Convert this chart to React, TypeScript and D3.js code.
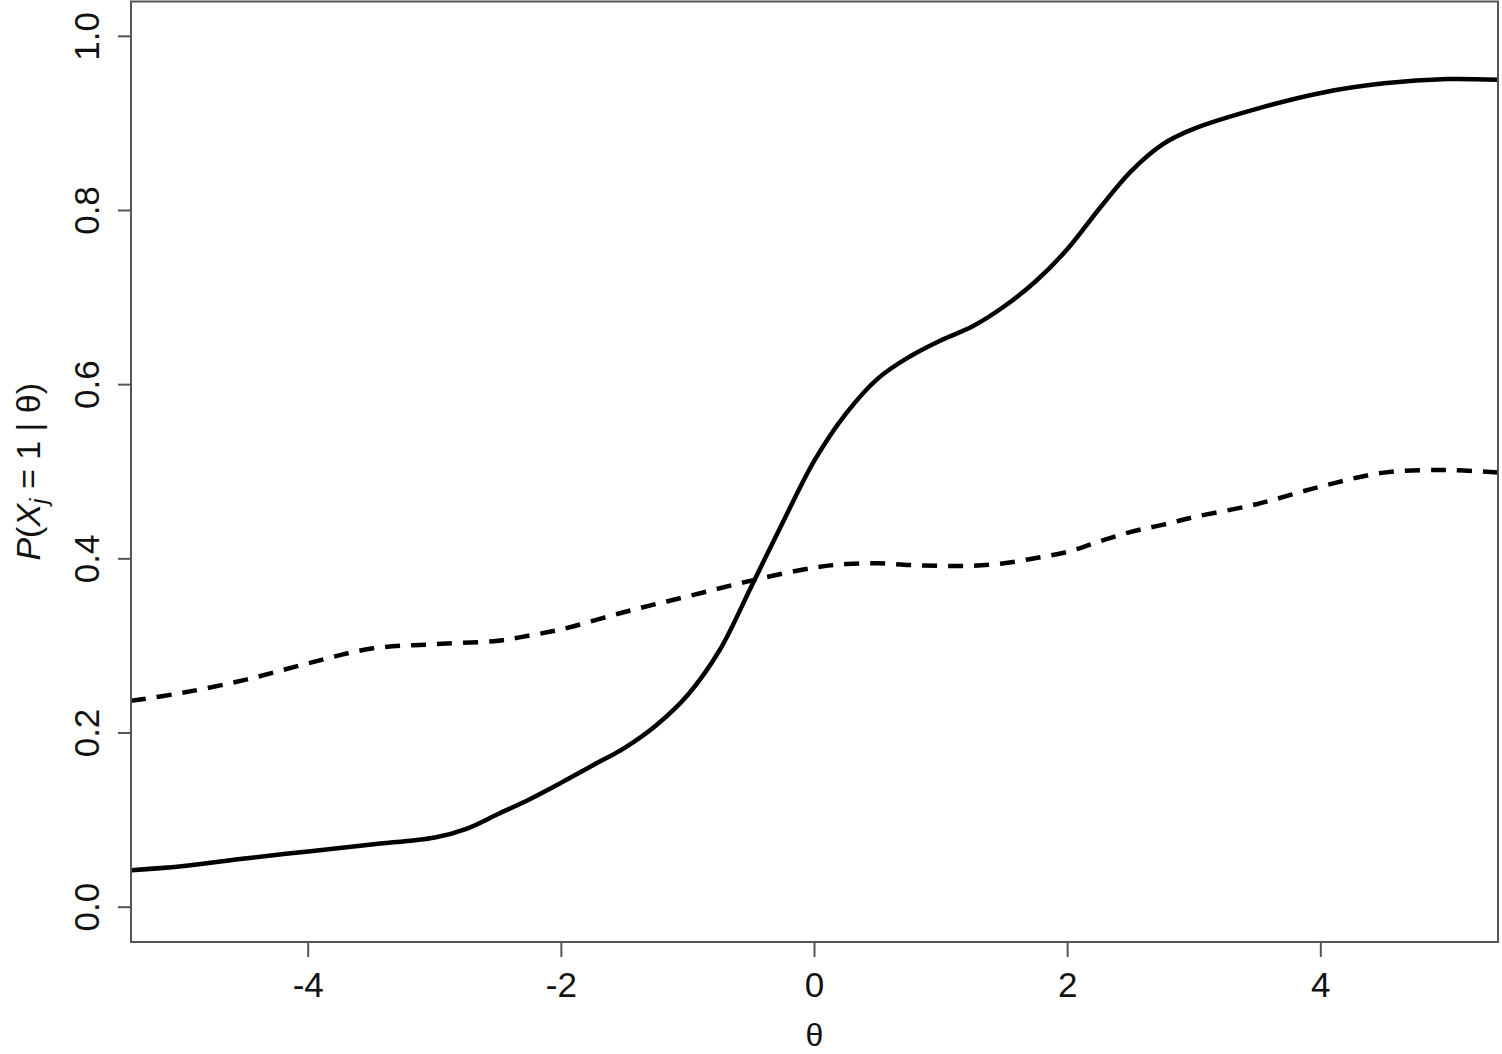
import React from "react";
import * as d3 from "d3";

const thetaSolid = [-5.4, -5.0, -4.5, -4.0, -3.5, -3.0, -2.75, -2.5, -2.25, -2.0, -1.75, -1.5, -1.25, -1.0, -0.75, -0.5, -0.25, 0.0, 0.25, 0.5, 0.75, 1.0, 1.25, 1.5, 1.75, 2.0, 2.25, 2.5, 2.75, 3.0, 3.5, 4.0, 4.5, 5.0, 5.4];
const probSolid = [0.0425, 0.047, 0.056, 0.064, 0.072, 0.080, 0.090, 0.107, 0.124, 0.143, 0.163, 0.183, 0.209, 0.244, 0.295, 0.368, 0.442, 0.513, 0.567, 0.607, 0.632, 0.651, 0.667, 0.690, 0.719, 0.756, 0.802, 0.845, 0.876, 0.894, 0.917, 0.935, 0.946, 0.951, 0.950];

const thetaDashed = [-5.4, -5.0, -4.5, -4.0, -3.5, -3.0, -2.5, -2.25, -2.0, -1.5, -1.0, -0.5, 0.0, 0.25, 0.5, 0.75, 1.0, 1.25, 1.5, 1.75, 2.0, 2.25, 2.5, 2.75, 3.0, 3.5, 4.0, 4.5, 5.0, 5.4];
const probDashed = [0.237, 0.246, 0.261, 0.280, 0.297, 0.302, 0.306, 0.312, 0.319, 0.339, 0.357, 0.375, 0.390, 0.394, 0.395, 0.393, 0.392, 0.392, 0.395, 0.401, 0.408, 0.420, 0.431, 0.439, 0.448, 0.463, 0.483, 0.499, 0.502, 0.499];

const xTicks = [-4, -2, 0, 2, 4];
const yTicks = [0, 0.2, 0.4, 0.6, 0.8, 1.0];

const W = 1502;
const H = 1054;
const L = 131, R = 1498, T = 1.5, B = 942;

export default function App() {
  const x = d3.scaleLinear().domain([-5.4, 5.4]).range([L, R]);
  const y = d3.scaleLinear().domain([-0.04, 1.04]).range([B, T]);
  const line = d3
    .line<[number, number]>()
    .x((d) => x(d[0]))
    .y((d) => y(d[1]))
    .curve(d3.curveCatmullRom.alpha(0.5));
  const solid = line(thetaSolid.map((t, i) => [t, probSolid[i]]) as [number, number][]) || "";
  const dashed = line(thetaDashed.map((t, i) => [t, probDashed[i]]) as [number, number][]) || "";
  const font = "'Liberation Sans', Arial, sans-serif";
  const axisColor = "#555";
  return (
    <svg
      width={W}
      height={H}
      style={{ position: "absolute", left: 0, top: 0, background: "#fff" }}
      fontFamily={font}
    >
      <defs>
        <clipPath id="plotclip">
          <rect x={L} y={T} width={R - L} height={B - T} />
        </clipPath>
      </defs>
      <g clipPath="url(#plotclip)">
        <path d={solid} fill="none" stroke="#000" strokeWidth={4.5} />
        <path d={dashed} fill="none" stroke="#000" strokeWidth={4.5} strokeDasharray="15 11" />
      </g>
      <rect x={L} y={T} width={R - L} height={B - T} fill="none" stroke={axisColor} strokeWidth={2} />
      {xTicks.map((t) => (
        <g key={"x" + t}>
          <line x1={x(t)} x2={x(t)} y1={B} y2={B + 15} stroke={axisColor} strokeWidth={2} />
          <text x={x(t)} y={997} textAnchor="middle" fontSize={35} fill="#111">
            {t < 0 ? "-" + Math.abs(t) : String(t)}
          </text>
        </g>
      ))}
      {yTicks.map((t) => (
        <g key={"y" + t}>
          <line x1={L - 13} x2={L} y1={y(t)} y2={y(t)} stroke={axisColor} strokeWidth={2} />
          <text
            transform={`translate(99,${y(t)}) rotate(-90)`}
            textAnchor="middle"
            fontSize={35}
            fill="#111"
          >
            {t.toFixed(1)}
          </text>
        </g>
      ))}
      <text x={x(0)} y={1046} textAnchor="middle" fontSize={32} fill="#111">
        θ
      </text>
      <text
        transform={`translate(40,${(T + B) / 2}) rotate(-90)`}
        textAnchor="middle"
        fontSize={34}
        fill="#111"
      >
        <tspan fontStyle="italic">P</tspan>
        <tspan>(</tspan>
        <tspan fontStyle="italic">X</tspan>
        <tspan fontStyle="italic" fontSize={24} dy={7}>j</tspan>
        <tspan dy={-7}>{" = 1 | θ)"}</tspan>
      </text>
    </svg>
  );
}
